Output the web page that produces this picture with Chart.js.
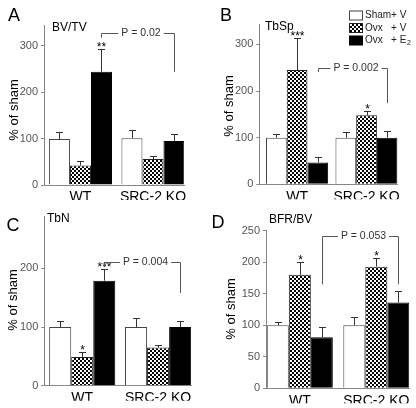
<!DOCTYPE html>
<html><head><meta charset="utf-8">
<script src="https://cdn.jsdelivr.net/npm/chart.js@4/dist/chart.umd.min.js"></script>
<style>
html,body{margin:0;padding:0;background:#fff;}
#wrap{position:relative;width:416px;height:408px;overflow:hidden;background:#fff;}
#wrap canvas{position:absolute;left:0;top:0;}
</style></head>
<body><div id="wrap">
<canvas id="cA" width="416" height="408"></canvas>
<canvas id="cB" width="416" height="408"></canvas>
<canvas id="cC" width="416" height="408"></canvas>
<canvas id="cD" width="416" height="408"></canvas>
</div>
<script>
// ---------- DATA ----------
const categories = ['WT', 'SRC-2 KO'];
const seriesLabels = ['Sham+ V', 'Ovx   + V', 'Ovx   + E₂'];

// A: BV/TV (% of sham)
const bvtvSham = [99, 101];
const bvtvOvx = [42, 56];
const bvtvE2 = [244, 95];
const bvtvShamErr = [16, 18];
const bvtvOvxErr = [9, 7];
const bvtvE2Err = [49, 14];
const bvtvTicks = [0, 100, 200, 300];
const bvtvStars = [{cat: 0, series: 2, text: '**'}];
const bvtvBracket = {text: 'P = 0.02', from: [0, 2], to: [1, 2], top: 328, leftEnd: 318, rightEnd: 244};

// B: TbSp
const tbspSham = [100, 100];
const tbspOvx = [245, 148];
const tbspE2 = [47, 100];
const tbspShamErr = [7, 13];
const tbspOvxErr = [68, 9];
const tbspE2Err = [11, 14];
const tbspTicks = [0, 100, 200, 300];
const tbspStars = [{cat: 0, series: 1, text: '***'}, {cat: 1, series: 1, text: '*'}];
const tbspBracket = {text: 'P = 0.002', from: [0, 2], to: [1, 2], top: 249, leftEnd: 241, rightEnd: 174};

// C: TbN
const tbnSham = [100, 100];
const tbnOvx = [49, 65];
const tbnE2 = [179, 100];
const tbnShamErr = [10, 15];
const tbnOvxErr = [8, 5];
const tbnE2Err = [20, 11];
const tbnTicks = [0, 100, 200];
const tbnStars = [{cat: 0, series: 1, text: '*'}, {cat: 0, series: 2, text: '***'}];
const tbnBracket = {text: 'P = 0.004', from: [0, 2], to: [1, 2], top: 210, leftEnd: 202, rightEnd: 158};

// D: BFR/BV
const bfrSham = [100, 100];
const bfrOvx = [180, 193];
const bfrE2 = [81, 136];
const bfrShamErr = [5, 13];
const bfrOvxErr = [21, 13];
const bfrE2Err = [17, 19];
const bfrTicks = [0, 50, 100, 150, 200, 250];
const bfrStars = [{cat: 0, series: 1, text: '*'}, {cat: 1, series: 1, text: '*'}];
const bfrBracket = {text: 'P = 0.053', from: [0, 2], to: [1, 2], top: 242, leftEnd: 165, rightEnd: 165};

// ---------- STYLE / LAYOUT ----------
const FONT = "'Liberation Sans', Arial, sans-serif";
const W = 416, H = 408, YW = 30, XH = 15;

function checker() {
  const c = document.createElement('canvas');
  c.width = 4; c.height = 4;
  const g = c.getContext('2d');
  g.fillStyle = '#fff'; g.fillRect(0, 0, 4, 4);
  g.fillStyle = '#000'; g.fillRect(0, 0, 2, 2); g.fillRect(2, 2, 2, 2);
  return g.createPattern(c, 'repeat');
}
const CHECK = checker();
const seriesStyles = [
  {backgroundColor: '#ffffff', borderColor: '#444', borderWidth: 1},
  {backgroundColor: CHECK, borderColor: '#222', borderWidth: 1},
  {backgroundColor: '#000000', borderColor: '#000', borderWidth: 1}
];

const panels = [
  {canvas: 'cA', letter: 'A', title: 'BV/TV', series: [bvtvSham, bvtvOvx, bvtvE2], errs: [bvtvShamErr, bvtvOvxErr, bvtvE2Err],
   ticks: bvtvTicks, stars: bvtvStars, bracket: bvtvBracket,
   area: {left: 44, right: 184, top: 25, bottom: 185}, yMax: 345, xMin: -0.503, xMax: 1.428, cp: 0.87,
   letterPos: [14, 16], titlePos: [52, 28], yTitlePos: [14, 110], legend: false},
  {canvas: 'cB', letter: 'B', title: 'TbSp', series: [tbspSham, tbspOvx, tbspE2], errs: [tbspShamErr, tbspOvxErr, tbspE2Err],
   ticks: tbspTicks, stars: tbspStars, bracket: tbspBracket,
   area: {left: 259.3, right: 397.3, top: 24.3, bottom: 184.3}, yMax: 343, xMin: -0.544, xMax: 1.443, cp: 0.895,
   letterPos: [226, 16], titlePos: [265, 27], yTitlePos: [229, 106], legend: true},
  {canvas: 'cC', letter: 'C', title: 'TbN', series: [tbnSham, tbnOvx, tbnE2], errs: [tbnShamErr, tbnOvxErr, tbnE2Err],
   ticks: tbnTicks, stars: tbnStars, bracket: tbnBracket,
   area: {left: 44.3, right: 191.7, top: 216.7, bottom: 385.7}, yMax: 288, xMin: -0.5, xMax: 1.443, cp: 0.872,
   letterPos: [13, 226], titlePos: [47, 219], yTitlePos: [13, 300], legend: false},
  {canvas: 'cD', letter: 'D', title: 'BFR/BV', series: [bfrSham, bfrOvx, bfrE2], errs: [bfrShamErr, bfrOvxErr, bfrE2Err],
   ticks: bfrTicks, stars: bfrStars, bracket: bfrBracket,
   area: {left: 266, right: 409.3, top: 230.7, bottom: 388.3}, yMax: 250, xMin: -0.442, xMax: 1.431, cp: 0.863,
   letterPos: [218, 223], titlePos: [269, 220], yTitlePos: [231, 309], legend: false}
];

function decorPlugin(p) {
  return {
    id: 'decor' + p.letter,
    afterDatasetsDraw(chart) {
      const ctx = chart.ctx, ys = chart.scales.y;
      ctx.save();
      // error bars
      ctx.strokeStyle = '#333'; ctx.lineWidth = 1;
      const tops = [];
      p.series.forEach((vals, si) => {
        const meta = chart.getDatasetMeta(si);
        tops[si] = [];
        meta.data.forEach((el, ci) => {
          const x = Math.round(el.x) + 0.5;
          const yTop = Math.round(ys.getPixelForValue(vals[ci] + p.errs[si][ci])) + 0.5;
          tops[si][ci] = {x, y: yTop};
          ctx.beginPath();
          ctx.moveTo(x, el.y); ctx.lineTo(x, yTop);
          ctx.moveTo(x - 3.5, yTop); ctx.lineTo(x + 3.5, yTop);
          ctx.stroke();
        });
      });
      // stars
      ctx.fillStyle = '#000';
      ctx.font = '12px ' + FONT;
      ctx.textAlign = 'center'; ctx.textBaseline = 'alphabetic';
      p.stars.forEach(s => {
        const t = tops[s.series][s.cat];
        ctx.fillText(s.text, t.x, t.y + 1.5);
      });
      // bracket
      const b = p.bracket;
      const lx = Math.round(chart.getDatasetMeta(b.from[1]).data[b.from[0]].x) + 0.5;
      const rx = Math.round(chart.getDatasetMeta(b.to[1]).data[b.to[0]].x) + 0.5;
      const ty = Math.round(ys.getPixelForValue(b.top)) + 0.5;
      const ly = ys.getPixelForValue(b.leftEnd);
      const ry = ys.getPixelForValue(b.rightEnd);
      ctx.font = '10.5px ' + FONT;
      const tw = ctx.measureText(b.text).width;
      const cx = (lx + rx) / 2 + 3;
      ctx.strokeStyle = '#555';
      ctx.beginPath();
      ctx.moveTo(lx, ly); ctx.lineTo(lx, ty); ctx.lineTo(cx - tw / 2 - 3, ty);
      ctx.moveTo(cx + tw / 2 + 3, ty); ctx.lineTo(rx, ty); ctx.lineTo(rx, ry);
      ctx.stroke();
      ctx.fillStyle = '#333'; ctx.textBaseline = 'middle';
      ctx.fillText(b.text, cx, ty);
      // panel letter and title
      ctx.fillStyle = '#000';
      ctx.font = '18px ' + FONT; ctx.textAlign = 'center'; ctx.textBaseline = 'middle';
      ctx.fillText(p.letter, p.letterPos[0], p.letterPos[1]);
      ctx.font = '12px ' + FONT; ctx.textAlign = 'left';
      ctx.fillText(p.title, p.titlePos[0], p.titlePos[1]);
      // y title
      ctx.save();
      ctx.translate(p.yTitlePos[0], p.yTitlePos[1]);
      ctx.rotate(-Math.PI / 2);
      ctx.textAlign = 'center'; ctx.font = '13px ' + FONT;
      ctx.fillText('% of sham', 0, 0);
      ctx.restore();
      // legend
      if (p.legend) {
        const bx = 349.5, bw = 13, bh = 9, rows = [15.5, 28, 40.5];
        seriesLabels.forEach((lab, i) => {
          const st = seriesStyles[i];
          ctx.fillStyle = st.backgroundColor;
          ctx.fillRect(bx, rows[i] - bh / 2, bw, bh);
          ctx.strokeStyle = st.borderColor; ctx.lineWidth = 1;
          ctx.strokeRect(bx, rows[i] - bh / 2, bw, bh);
          ctx.fillStyle = '#222'; ctx.font = '10px ' + FONT;
          ctx.textAlign = 'left'; ctx.textBaseline = 'middle';
          const parts = lab.split('₂');
          ctx.fillText(parts[0], 365, rows[i]);
          if (parts.length > 1) {
            const w0 = ctx.measureText(parts[0]).width;
            ctx.font = '7px ' + FONT;
            ctx.fillText('2', 365 + w0 + 0.5, rows[i] + 3);
          }
        });
      }
      ctx.restore();
    }
  };
}

panels.forEach(p => {
  const a = p.area;
  new Chart(document.getElementById(p.canvas), {
    type: 'bar',
    data: {
      datasets: p.series.map((vals, si) => Object.assign({
        label: seriesLabels[si],
        data: vals.map((v, ci) => ({x: ci, y: v})),
        borderSkipped: 'start'
      }, seriesStyles[si]))
    },
    options: {
      responsive: false, animation: false, devicePixelRatio: 1,
      layout: {padding: {left: a.left - YW, right: W - a.right, top: a.top, bottom: H - a.bottom - XH}},
      plugins: {legend: {display: false}, tooltip: {enabled: false}},
      datasets: {bar: {categoryPercentage: p.cp, barPercentage: 1}},
      scales: {
        x: {
          type: 'linear', min: p.xMin, max: p.xMax, offset: false,
          grid: {display: false, drawTicks: false},
          border: {display: true, color: '#888', width: 1},
          ticks: {autoSkip: false, maxRotation: 0, padding: 4, color: '#000',
                  font: {family: FONT, size: 14}, callback: v => categories[v]},
          afterBuildTicks: s => { s.ticks = categories.map((c, i) => ({value: i})); },
          afterFit: s => { s.height = XH; s.paddingLeft = 0; s.paddingRight = 0; }
        },
        y: {
          min: 0, max: p.yMax,
          grid: {display: true, drawOnChartArea: false, drawTicks: true, tickLength: 3, color: '#888'},
          border: {display: true, color: '#888', width: 1},
          ticks: {padding: 3, color: '#555', font: {family: FONT, size: 11}},
          afterBuildTicks: s => { s.ticks = p.ticks.map(v => ({value: v})); },
          afterFit: s => { s.width = YW; s.paddingTop = 0; s.paddingBottom = 0; }
        }
      }
    },
    plugins: [decorPlugin(p)]
  });
});
</script>
</body></html>
